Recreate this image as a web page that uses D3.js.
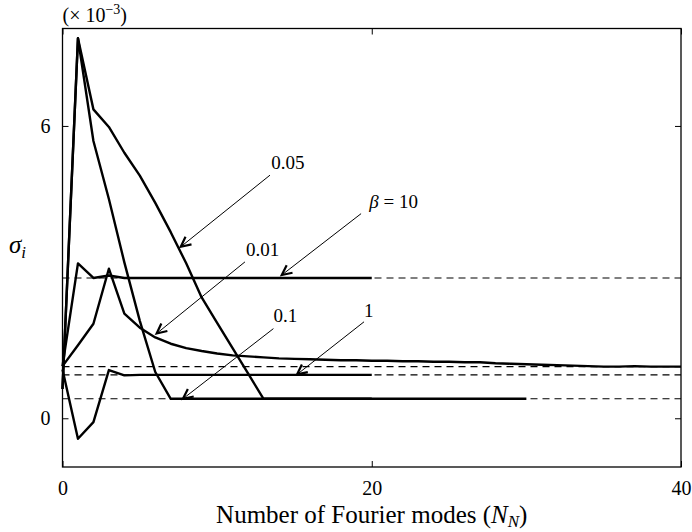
<!DOCTYPE html>
<html>
<head>
<meta charset="utf-8">
<script src="https://cdn.jsdelivr.net/npm/d3@7"></script>
<style>
  body { margin: 0; background: #fff; }
  text { font-family: "Liberation Serif", "DejaVu Serif", serif; fill: #000; }
</style>
</head>
<body>
<div class="chartContainer"></div>
<script>
// sigma_i values (x 10^-3), index = number of Fourier modes
const beta001 = [1.07, 1.5, 1.94, 3.07, 2.15, 1.86, 1.66, 1.53, 1.44, 1.38,
  1.33, 1.29, 1.27, 1.25, 1.23, 1.22, 1.21, 1.2, 1.19, 1.19,
  1.18, 1.18, 1.17, 1.17, 1.16, 1.16, 1.15, 1.15, 1.13, 1.12,
  1.11, 1.1, 1.09, 1.08, 1.07, 1.06, 1.06, 1.07, 1.06, 1.06, 1.06];
const beta005 = [0.6, 7.8, 6.34, 5.98, 5.45, 4.98, 4.42, 3.82, 3.18, 2.48,
  1.96, 1.44, 0.92, 0.4, 0.4, 0.4, 0.4, 0.4, 0.4, 0.4,
  0.4, 0.4, 0.4, 0.4, 0.4, 0.4, 0.4, 0.4, 0.4, 0.4, 0.4];
const beta01 = [0.6, 7.8, 5.69, 4.5, 3.2, 2.0, 0.95, 0.4, 0.4, 0.4,
  0.4, 0.4, 0.4, 0.4, 0.4, 0.4, 0.4, 0.4, 0.4, 0.4, 0.4];
const beta1 = [1.0, -0.42, -0.08, 0.99, 0.88, 0.89, 0.89, 0.89, 0.89, 0.89,
  0.89, 0.89, 0.89, 0.89, 0.89, 0.89, 0.89, 0.89, 0.89, 0.89, 0.89];
const beta10 = [1.07, 3.18, 2.88, 2.93, 2.88, 2.88, 2.88, 2.88, 2.88, 2.88,
  2.88, 2.88, 2.88, 2.88, 2.88, 2.88, 2.88, 2.88, 2.88, 2.88, 2.88];

// asymptotic levels (dashed)
const limits = [2.88, 1.06, 0.89, 0.4];

const xTicks = [0, 20, 40];
const yTicks = [0, 6];

// labels: text position and arrow tail/tip in data units
const labels = [
  { text: "0.05", tx: 13.5, ty: 5.11, from: [13.42, 4.99], to: [7.65, 3.52] },
  { text: "β = 10", tx: 19.84, ty: 4.31, from: [19.31, 4.2], to: [14.18, 2.94] },
  { text: "0.01", tx: 11.87, ty: 3.33, from: [11.8, 3.21], to: [6.09, 1.74] },
  { text: "0.1", tx: 13.64, ty: 1.98, from: [13.64, 1.84], to: [7.79, 0.4] },
  { text: "1", tx: 19.5, ty: 2.08, from: [19.5, 1.98], to: [15.17, 0.9] }
];

const svgWidth = 692, svgHeight = 532;
const margin = { left: 62.5, right: 11, top: 28.5, bottom: 65 };
const width = svgWidth - margin.left - margin.right;
const height = svgHeight - margin.top - margin.bottom;

const xScale = d3.scaleLinear().domain([0, 40]).range([0, width]);
const yScale = d3.scaleLinear().domain([-1, 8]).range([height, 0]);

const svg = d3.select(".chartContainer")
  .append("svg")
  .attr("width", svgWidth)
  .attr("height", svgHeight);

const g = svg.append("g")
  .attr("transform", "translate(" + [margin.left, margin.top] + ")");

// dashed limits
g.selectAll(".limit")
  .data(limits)
  .enter()
  .append("line")
  .attr("class", "limit")
  .attr("x1", xScale(0))
  .attr("x2", xScale(40))
  .attr("y1", d => yScale(d))
  .attr("y2", d => yScale(d))
  .attr("stroke", "#000")
  .attr("stroke-width", 1.1)
  .attr("stroke-dasharray", "7,5");

// curves
const line = d3.line()
  .x((d, i) => xScale(i))
  .y(d => yScale(d));

g.selectAll(".curve")
  .data([beta10, beta1, beta01, beta005, beta001])
  .enter()
  .append("path")
  .attr("class", "curve")
  .attr("d", line)
  .attr("fill", "none")
  .attr("stroke", "#000")
  .attr("stroke-width", 2.4)
  .attr("stroke-linejoin", "round");

// axes box
const xAxis = d3.axisBottom(xScale).tickValues(xTicks).tickSize(-6).tickPadding(14);
const yAxis = d3.axisLeft(yScale).tickValues(yTicks).tickSize(-6).tickPadding(12);

g.append("g")
  .attr("transform", "translate(" + [0, height] + ")")
  .call(xAxis);
g.append("g").call(yAxis);
g.append("g").call(d3.axisTop(xScale).tickValues(xTicks).tickSize(-6).tickFormat(""));
g.append("g").attr("transform", "translate(" + [width, 0] + ")")
  .call(d3.axisRight(yScale).tickValues(yTicks).tickSize(-6).tickFormat(""));

g.selectAll(".domain").remove();
g.selectAll(".tick line").attr("stroke", "#000").attr("stroke-width", 1);
g.selectAll(".tick text")
  .style("font-family", "Liberation Serif")
  .style("font-size", "20px")
  .attr("fill", "#000");

g.append("rect")
  .attr("x", 0).attr("y", 0)
  .attr("width", width).attr("height", height)
  .attr("fill", "none")
  .attr("stroke", "#000")
  .attr("stroke-width", 1.3);

// annotations
const ann = g.selectAll(".ann")
  .data(labels)
  .enter()
  .append("g")
  .attr("class", "ann");

ann.append("line")
  .attr("x1", d => xScale(d.from[0]))
  .attr("y1", d => yScale(d.from[1]))
  .attr("x2", d => xScale(d.to[0]))
  .attr("y2", d => yScale(d.to[1]))
  .attr("stroke", "#000")
  .attr("stroke-width", 1);

ann.append("path")
  .attr("d", d => {
    const x1 = xScale(d.from[0]), y1 = yScale(d.from[1]);
    const x2 = xScale(d.to[0]), y2 = yScale(d.to[1]);
    const a = Math.atan2(y1 - y2, x1 - x2);
    const L = 11, w = 0.45;
    const p1 = [x2 + L * Math.cos(a + w), y2 + L * Math.sin(a + w)];
    const p2 = [x2 + L * Math.cos(a - w), y2 + L * Math.sin(a - w)];
    return "M" + p1 + "L" + [x2, y2] + "L" + p2;
  })
  .attr("fill", "none")
  .attr("stroke", "#000")
  .attr("stroke-width", 2.2)
  .attr("stroke-linejoin", "miter");

ann.append("text")
  .attr("x", d => xScale(d.tx))
  .attr("y", d => yScale(d.ty))
  .style("font-size", "19px")
  .each(function (d) {
    const t = d3.select(this);
    if (d.text.startsWith("β")) {
      t.append("tspan").style("font-style", "italic").text("β");
      t.append("tspan").text(" = 10");
    } else {
      t.text(d.text);
    }
  });

// multiplier
const mult = svg.append("text")
  .attr("x", margin.left)
  .attr("y", 22)
  .style("font-size", "20px");
mult.append("tspan").text("(× 10");
mult.append("tspan").attr("dy", -8).style("font-size", "14px").text("−3");
mult.append("tspan").attr("dy", 8).text(")");

// y label
const yl = svg.append("text")
  .attr("x", 9)
  .attr("y", 253)
  .style("font-size", "25px")
  .style("font-style", "italic");
yl.append("tspan").text("σ");
yl.append("tspan").attr("dy", 5).style("font-size", "17px").text("i");

// x label
const xl = svg.append("text")
  .attr("x", margin.left + width / 2)
  .attr("y", 523)
  .attr("text-anchor", "middle")
  .style("font-size", "25px");
xl.append("tspan").text("Number of Fourier modes (");
xl.append("tspan").style("font-style", "italic").text("N");
xl.append("tspan").attr("dy", 4).style("font-size", "17px").style("font-style", "italic").text("N");
xl.append("tspan").attr("dy", -4).text(")");
</script>
</body>
</html>
